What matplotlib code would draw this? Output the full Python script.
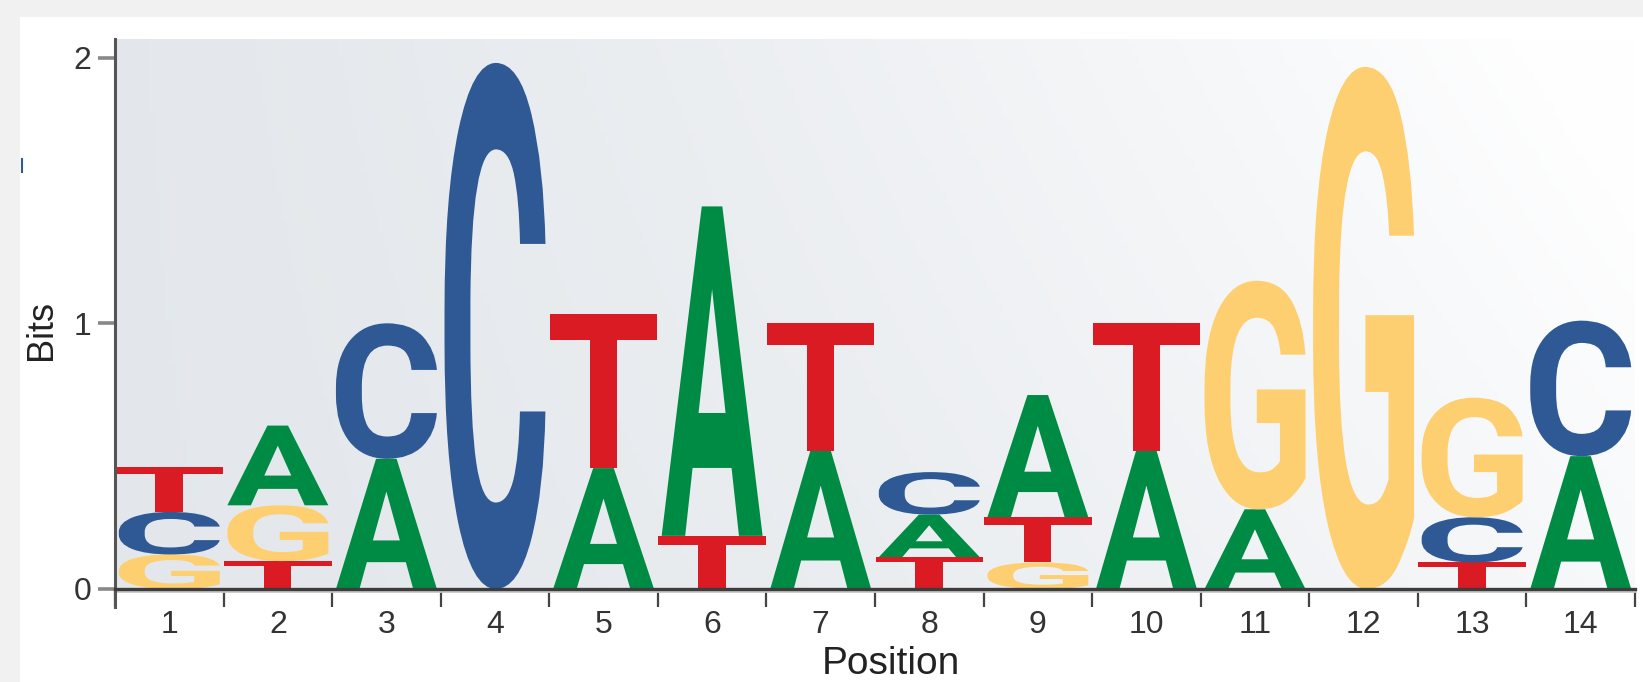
import numpy as np
import matplotlib
matplotlib.use("Agg")
import matplotlib.pyplot as plt
from matplotlib.textpath import TextPath
from matplotlib.font_manager import FontProperties
from matplotlib.patches import PathPatch, Rectangle
from matplotlib.lines import Line2D
import matplotlib.transforms as mtransforms

# information content (bits) of each base at each position
positions = list(range(1, 15))
A_bits = [0.00, 0.30, 0.49, 0.00, 0.455, 1.24, 0.52, 0.16, 0.46, 0.52, 0.30, 0.00, 0.00, 0.50]
C_bits = [0.16, 0.00, 0.51, 1.98, 0.00, 0.00, 0.00, 0.16, 0.00, 0.00, 0.00, 0.00, 0.17, 0.51]
G_bits = [0.13, 0.21, 0.00, 0.00, 0.00, 0.00, 0.00, 0.00, 0.10, 0.00, 0.86, 1.965, 0.45, 0.00]
T_bits = [0.17, 0.105, 0.00, 0.00, 0.58, 0.20, 0.48, 0.12, 0.17, 0.48, 0.00, 0.00, 0.10, 0.00]
# stacking order from bottom to top, as in the picture
stack_order = ["GCT", "TGA", "AC", "C", "AT", "TA", "AT", "TAC", "GTA", "AT", "AG", "G", "TCG", "AC"]

colors = {"A": "#008b45", "C": "#2f5994", "G": "#fecf71", "T": "#da1b24"}
bits = {"A": A_bits, "C": C_bits, "G": G_bits, "T": T_bits}

letter_font = FontProperties(family="Roboto", weight="bold")


def draw_letter(ax, ch, x, y, width, height):
    tp = TextPath((0, 0), ch, size=1, prop=letter_font)
    bb = tp.get_extents()
    tr = (mtransforms.Affine2D()
          .translate(-bb.x0, -bb.y0)
          .scale(width / bb.width, height / bb.height)
          .translate(x - width / 2, y))
    patch = PathPatch(tr.transform_path(tp), facecolor=colors[ch], edgecolor="none", zorder=3)
    ax.add_patch(patch)


W, H = 1643, 682
fig = plt.figure(figsize=(W / 100, H / 100), dpi=100)
fig.patch.set_facecolor("#f1f1f1")
fig.patches.append(Rectangle((20 / W, 0), 1 - 20 / W, 1 - 17 / H, transform=fig.transFigure,
                             facecolor="white", edgecolor="none", zorder=-5))
# small stray blue mark on the left
fig.lines.append(Line2D([22 / W, 22 / W], [1 - 159 / H, 1 - 172 / H], transform=fig.transFigure,
                        color="#2f5994", lw=1.5, zorder=-4))

ax = fig.add_axes([115 / W, 93 / H, 1520 / W, 550 / H])
ax.set_zorder(2)
ytop = 2.07
ax.set_xlim(0.5, 14.5)
ax.set_ylim(0, ytop)

# soft gradient background
u = np.linspace(0, 1, 300)
v = np.linspace(0, 1, 100)
U, V = np.meshgrid(u, v)
t = np.clip(0.75 * U ** 1.6 + 0.35 * V * U, 0, 1)
c0 = np.array([0.893, 0.909, 0.925])
c1 = np.array([0.998, 0.998, 1.0])
img = c0[None, None, :] * (1 - t[..., None]) + c1[None, None, :] * t[..., None]
ax.imshow(img, extent=[0.5, 14.5, 0, ytop], origin="lower", aspect="auto", zorder=0)

for i, pos in enumerate(positions):
    base = 0.0
    for ch in stack_order[i]:
        h = bits[ch][i]
        w = 0.99 if ch == "T" else 0.93
        draw_letter(ax, ch, pos, base, w, h)
        base += h

for s in ["top", "right", "left"]:
    ax.spines[s].set_visible(False)
ax.spines["bottom"].set_color("#3c3c3c")
ax.spines["bottom"].set_linewidth(2.4)
ax.spines["bottom"].set_zorder(5)
ax.plot([0.5, 14.5], [-0.008, -0.008], color="#c8c8c8", lw=2, clip_on=False, zorder=4)
ax.plot([0.5, 0.5], [-0.068, ytop], color="#555555", lw=2.2, clip_on=False, zorder=5)

ax.set_xticks(positions)
ax.set_xticklabels([str(p) for p in positions])
ax.set_xticks(np.arange(0.5, 15, 1.0), minor=True)
ax.tick_params(axis="x", which="major", length=0, pad=15, labelsize=23, labelcolor="#333333")
ax.tick_params(axis="x", which="minor", length=13, width=1.6, color="#444444", direction="out")
ax.set_yticks([0, 1, 2])
ax.tick_params(axis="y", which="major", length=12, width=2.6, color="#888888", pad=5,
               labelsize=23, labelcolor="#333333")
for lab in ax.get_xticklabels() + ax.get_yticklabels():
    lab.set_family("Liberation Sans")

fig.text(42 / W, 1 - 330 / H, "Bits", rotation=90, ha="center", va="center",
         fontsize=26, color="#222222", family="Liberation Sans")
fig.text(891 / W, 8 / H, "Position", ha="center", va="baseline",
         fontsize=28, color="#222222", family="Liberation Sans")

fig.savefig("out.png", dpi=100, facecolor=fig.get_facecolor())
